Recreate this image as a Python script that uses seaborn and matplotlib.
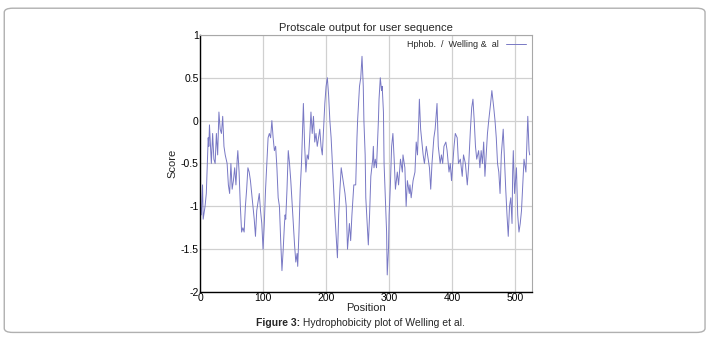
import matplotlib
matplotlib.use("Agg")
import matplotlib.pyplot as plt
from matplotlib.patches import FancyBboxPatch
import pandas as pd
import seaborn as sns

# values (Welling & al hydrophobicity)
position = [
    0, 2, 4, 5, 8, 10, 12, 13, 14, 15, 17, 18, 20, 22, 24, 26, 28, 30, 32, 34,
    36, 38, 40, 43, 45, 47, 49, 51, 53, 55, 57, 59, 60, 62, 64, 66, 68, 70, 72, 74,
    76, 78, 80, 82, 84, 86, 88, 90, 92, 94, 96, 98, 100, 102, 104, 106, 108, 110, 112, 114,
    116, 118, 120, 122, 124, 126, 128, 130, 132, 134, 135, 136, 138, 140, 142, 144, 146, 148, 150, 152,
    154, 155, 157, 159, 161, 163, 164, 166, 168, 170, 172, 174, 176, 178, 180, 182, 184, 186, 188, 190,
    192, 194, 196, 198, 200, 202, 204, 206, 208, 210, 212, 214, 216, 218, 220, 222, 224, 227, 230, 232,
    234, 237, 239, 241, 244, 247, 249, 250, 253, 255, 257, 259, 260, 262, 263, 266, 267, 269, 271, 274,
    275, 276, 278, 280, 283, 284, 286, 288, 289, 291, 292, 294, 296, 297, 299, 300, 302, 304, 306, 308,
    310, 313, 315, 318, 321, 322, 325, 327, 329, 332, 333, 335, 338, 341, 343, 345, 347, 348, 350, 352,
    354, 356, 359, 362, 364, 366, 368, 371, 373, 376, 377, 378, 381, 383, 385, 387, 390, 392, 395, 397,
    399, 403, 405, 408, 410, 413, 416, 418, 421, 424, 426, 429, 431, 433, 435, 437, 439, 442, 444, 446,
    448, 450, 452, 454, 456, 458, 461, 463, 466, 468, 470, 472, 474, 476, 478, 481, 483, 485, 487, 489,
    491, 493, 495, 496, 497, 499, 502, 504, 506, 508, 510, 512, 514, 517, 519, 520, 522, 523,
]
score = [
    -0.95, -1.1, -0.75, -1.15, -1.0, -0.85, -0.4, -0.2, -0.3, -0.05, -0.35, -0.5, -0.15, -0.45, -0.5, -0.15, -0.4, 0.1, -0.1, -0.15,
    0.05, -0.3, -0.4, -0.5, -0.75, -0.85, -0.5, -0.8, -0.7, -0.55, -0.75, -0.45, -0.35, -0.6, -1.0, -1.3, -1.25, -1.3, -1.0, -0.8,
    -0.55, -0.6, -0.7, -0.85, -1.0, -1.15, -1.35, -1.05, -0.95, -0.85, -1.05, -1.2, -1.5, -1.2, -0.8, -0.5, -0.2, -0.15, -0.2, 0.0,
    -0.2, -0.35, -0.3, -0.55, -0.9, -1.0, -1.4, -1.75, -1.5, -1.2, -1.1, -1.15, -0.8, -0.35, -0.5, -0.7, -0.95, -1.2, -1.45, -1.65,
    -1.55, -1.7, -1.3, -0.8, -0.5, -0.05, 0.2, -0.3, -0.6, -0.4, -0.45, -0.2, 0.1, -0.15, 0.05, -0.25, -0.15, -0.3, -0.2, -0.1,
    -0.3, -0.4, -0.1, 0.2, 0.4, 0.5, 0.3, 0.0, -0.2, -0.5, -0.8, -1.1, -1.35, -1.6, -1.1, -0.8, -0.55, -0.7, -0.85, -1.0,
    -1.5, -1.2, -1.4, -1.1, -0.75, -0.75, -0.2, 0.0, 0.4, 0.5, 0.75, 0.4, 0.0, -0.4, -0.9, -1.3, -1.45, -1.1, -0.65, -0.45,
    -0.3, -0.55, -0.45, -0.55, 0.0, 0.25, 0.5, 0.35, 0.4, 0.1, -0.5, -0.9, -1.3, -1.8, -1.5, -1.1, -0.75, -0.3, -0.15, -0.45,
    -0.8, -0.6, -0.75, -0.45, -0.6, -0.4, -0.55, -1.0, -0.7, -0.85, -0.75, -0.9, -0.7, -0.6, -0.25, -0.4, 0.0, 0.25, -0.1, -0.25,
    -0.4, -0.5, -0.3, -0.45, -0.55, -0.8, -0.5, -0.2, -0.1, 0.2, -0.05, -0.3, -0.5, -0.4, -0.5, -0.3, -0.25, -0.35, -0.6, -0.5,
    -0.7, -0.3, -0.15, -0.2, -0.5, -0.45, -0.65, -0.4, -0.5, -0.75, -0.55, -0.1, 0.15, 0.25, 0.0, -0.3, -0.45, -0.35, -0.55, -0.35,
    -0.5, -0.25, -0.65, -0.4, -0.15, 0.0, 0.2, 0.35, 0.15, 0.0, -0.2, -0.5, -0.6, -0.85, -0.4, -0.1, -0.45, -0.8, -1.1, -1.35,
    -1.0, -0.9, -1.2, -0.6, -0.35, -0.85, -0.55, -1.1, -1.3, -1.2, -1.05, -0.75, -0.45, -0.6, -0.15, 0.05, -0.35, -0.4,
]

df = pd.DataFrame({"Position": position, "Score": score})

sns.set_theme(style="white")
plt.rcParams["font.family"] = ["Liberation Sans", "DejaVu Sans"]

fig = plt.figure(figsize=(7.1, 3.42), dpi=100)

# rounded grey frame around the figure panel
frame = FancyBboxPatch(
    (0.006, 0.028), 0.987, 0.948,
    boxstyle="round,pad=0,rounding_size=0.012",
    transform=fig.transFigure, facecolor="none", edgecolor="#b0b0b0",
    linewidth=1.0, zorder=-5,
)
fig.patches.append(frame)

ax = fig.add_axes([0.2817, 0.146, 0.467, 0.752])
ax.patch.set_alpha(0)
sns.lineplot(data=df, x="Position", y="Score", color="#7878c4",
             linewidth=0.7, ax=ax, label="Hphob.  /  Welling &  al")

ax.set_xlim(0, 526)
ax.set_ylim(-2, 1)
ax.set_xticks([0, 100, 200, 300, 400, 500])
ax.set_yticks([-2, -1.5, -1, -0.5, 0, 0.5, 1])
ax.set_yticklabels(["-2", "-1.5", "-1", "-0.5", "0", "0.5", "1"])
ax.grid(True, color="#d0d0d0", linewidth=0.9)
ax.set_axisbelow(True)
for side in ["top", "right"]:
    ax.spines[side].set_color("#a8a8a8")
    ax.spines[side].set_linewidth(0.8)
for side in ["left", "bottom"]:
    ax.spines[side].set_color("black")
    ax.spines[side].set_linewidth(1.0)
ax.tick_params(axis="both", labelsize=7.5, length=3, width=0.8, direction="in",
               pad=1, colors="black")
ax.set_xlabel("Position", fontsize=8, labelpad=0)
ax.set_ylabel("Score", fontsize=8, labelpad=2)
ax.set_title("Protscale output for user sequence", fontsize=8, pad=3)

leg = ax.legend(loc="upper right", frameon=False, fontsize=6.5,
                markerfirst=False, handlelength=2.2, borderaxespad=0.2)

fig.text(0.4225, 0.055, "Figure 3:", ha="right", va="center", fontsize=7.5,
         fontweight="bold")
fig.text(0.4225, 0.055, " Hydrophobicity plot of Welling et al.", ha="left",
         va="center", fontsize=7.5)

fig.savefig("out.png", dpi=100)
